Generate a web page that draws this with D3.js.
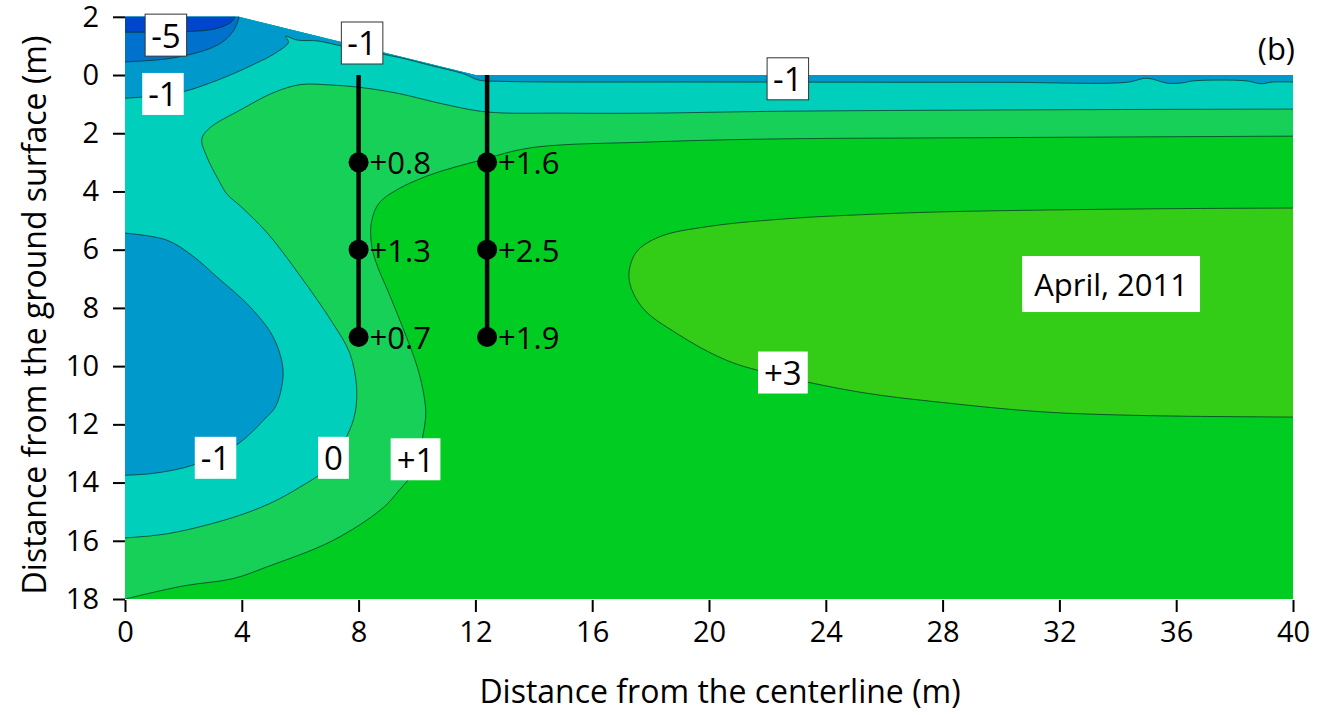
<!DOCTYPE html>
<html>
<head>
<meta charset="utf-8">
<script src="https://cdn.jsdelivr.net/npm/d3@7"></script>
<style>
  body { margin: 0; background: #fff; }
  svg { display: block; font-family: "Open Sans", sans-serif; }
</style>
</head>
<body>
<svg id="chart" width="1323" height="715"></svg>
<script>
// axis ticks
const xTicks = [0, 4, 8, 12, 16, 20, 24, 28, 32, 36, 40];
const depthTicks = [-2, 0, 2, 4, 6, 8, 10, 12, 14, 16, 18];

// embankment / ground surface [distance, depth]
const surface = [[0, -2], [3.9, -2], [12, 0], [40, 0]];

// contour lines [distance, depth]
const contourM5 = [[0, -1.47], [1.2, -1.48], [2.3, -1.5], [3.0, -1.57], [3.5, -1.73], [3.72, -1.9], [3.78, -2.05]];
const contourM3 = [[0, -0.45], [1.4, -0.55], [2.4, -0.75], [3.0, -0.95], [3.4, -1.18], [3.7, -1.5], [3.85, -1.8], [3.92, -2.05]];
const contourM1Top = [[0, 0.8], [1, 0.72], [2, 0.57], [2.9, 0.28], [3.7, -0.04], [4.5, -0.41], [5.1, -0.72],
  [5.6, -1.13], [5.5, -1.33], [5.9, -1.2], [6.6, -1.17], [7.4, -1.0], [8.2, -0.86], [9.0, -0.68], [9.4, -0.6],
  [10.5, -0.32], [11.6, -0.04], [12.1, 0.17], [13, 0.22], [20, 0.24], [30, 0.25], [34.3, 0.25], [35.0, 0.11],
  [35.7, 0.28], [36.2, 0.27], [36.6, 0.2], [38.4, 0.2], [38.9, 0.3], [39.3, 0.24], [40, 0.24]];
const contourM1Blob = [[0, 5.43], [1.43, 5.67], [2.3, 6.2], [3.14, 6.93], [4.28, 7.96], [5.07, 8.99], [5.4, 10.0],
  [5.37, 10.7], [5.15, 11.4], [4.85, 11.75], [3.83, 12.7], [2.33, 13.4], [1.0, 13.68], [0, 13.75]];
const contour0 = [[40, 1.17], [30, 1.2], [22, 1.25], [18, 1.31], [15, 1.31], [12.4, 1.27], [11, 1.02], [9.3, 0.62],
  [8.0, 0.42], [7.0, 0.34], [6.0, 0.33], [5.1, 0.6], [3.95, 1.2], [2.9, 1.82], [2.63, 2.2], [2.8, 2.8], [3.2, 3.6],
  [3.5, 4.1], [3.95, 4.5], [4.85, 5.4], [6.0, 6.9], [7.1, 8.5], [7.7, 9.56], [7.93, 10.7], [7.88, 11.6], [7.6, 12.4],
  [6.8, 13.6], [6.0, 14.15], [5.0, 14.7], [3.7, 15.2], [1.5, 15.75], [0, 15.9]];
const contourP1 = [[40, 2.1], [30, 2.15], [22, 2.2], [18, 2.3], [13.9, 2.5], [12.2, 2.92], [10.45, 3.43], [9.3, 3.95],
  [8.7, 4.4], [8.45, 5.0], [8.42, 5.6], [8.55, 6.3], [9.08, 7.6], [9.64, 9.0], [10.0, 10.0], [10.2, 10.8], [10.3, 11.6],
  [10.2, 12.4], [9.9, 13.6], [9.4, 14.25], [8.8, 14.9], [7.1, 16.0], [4.85, 16.9], [3.7, 17.3], [2.0, 17.55], [0, 18.0]];
const contourP3 = [[40, 4.57], [34.8, 4.6], [28, 4.7], [25.2, 4.8], [22.9, 4.92], [20, 5.2], [18.3, 5.56], [17.5, 6.1],
  [17.26, 6.97], [17.7, 7.97], [18.9, 8.88], [20.6, 9.8], [22.3, 10.3], [25.2, 10.9], [28, 11.25], [31.4, 11.57],
  [35, 11.7], [40, 11.75]];

// boreholes and measured values
const boreholes = [8, 12.4];
const sensorDepths = [3, 6, 9];
const sensorValues = [["+0.8", "+1.3", "+0.7"], ["+1.6", "+2.5", "+1.9"]];

// contour labels [text, distance, depth, bordered]
const contourLabels = [
  ["-5", 1.4, -1.37, true],
  ["-1", 1.3, 0.65, false],
  ["-1", 8.12, -1.1, true],
  ["-1", 22.7, 0.13, true],
  ["-1", 3.1, 13.15, false],
  ["0", 7.14, 13.15, false],
  ["+1", 9.95, 13.2, false],
  ["+3", 22.53, 10.22, false]
];
const dateLabel = ["April, 2011", 33.77, 7.18];

const svg = d3.select("#chart");
const x = d3.scaleLinear().domain([0, 40]).range([125, 1293]);
const y = d3.scaleLinear().domain([-2, 18]).range([16.8, 599]);

const line = d3.line().x(d => x(d[0])).y(d => y(d[1])).curve(d3.curveCatmullRom.alpha(0.5));
const straight = d3.line().x(d => x(d[0])).y(d => y(d[1]));

function regionPath(contour, closure) {
  return line(contour) + closure.map(p => `L${x(p[0])},${y(p[1])}`).join("") + "Z";
}

const groundPoly = surface.concat([[40, 18], [0, 18]]);
svg.append("defs").append("clipPath").attr("id", "ground")
  .append("path").attr("d", straight(groundPoly) + "Z");

const field = svg.append("g").attr("clip-path", "url(#ground)");

field.append("path").attr("d", straight(groundPoly) + "Z").attr("fill", "#00CC22");

const regions = [
  [contourP3, [[41, 11.75], [41, 4.57]], "#33CC17"],
  [contourP1, [[-1, 18], [-1, -3], [41, -3], [41, 2.1]], "#17D058"],
  [contour0, [[-1, 15.9], [-1, -3], [41, -3], [41, 1.17]], "#00CFBB"],
  [contourM1Top, [[41, 0.24], [41, -3], [-1, -3], [-1, 0.8]], "#0099CC"],
  [contourM1Blob, [[-1, 13.75], [-1, 5.43]], "#0099CC"],
  [contourM3, [[3.92, -3], [-1, -3], [-1, -0.45]], "#0071CC"],
  [contourM5, [[3.78, -3], [-1, -3], [-1, -1.47]], "#0046CC"]
];

field.selectAll("path.region")
  .data(regions)
  .join("path")
  .attr("class", "region")
  .attr("d", d => regionPath(d[0], d[1]))
  .attr("fill", d => d[2]);

field.selectAll("path.contour")
  .data(regions.map(d => d[0]))
  .join("path")
  .attr("class", "contour")
  .attr("d", d => line(d))
  .attr("fill", "none")
  .attr("stroke", "rgba(10,50,40,0.75)")
  .attr("stroke-width", 1);

// axes
const yAxis = d3.axisLeft(y).tickValues(depthTicks).tickFormat(d => Math.abs(d)).tickSize(12).tickPadding(14);
const xAxis = d3.axisBottom(x).tickValues(xTicks).tickSize(12).tickPadding(9);

const gy = svg.append("g").attr("transform", "translate(125,0)").call(yAxis);
const gx = svg.append("g").attr("transform", "translate(0,600)").call(xAxis);
[gx, gy].forEach(g => {
  g.select(".domain").remove();
  g.selectAll(".tick line").attr("stroke", "#000").attr("stroke-width", 2);
  g.selectAll(".tick text").attr("fill", "#000").style("font-size", "29px").style("font-family", "Open Sans");
});

svg.append("text")
  .attr("x", 720).attr("y", 690)
  .attr("text-anchor", "middle").attr("dominant-baseline", "central")
  .style("font-size", "32px")
  .text("Distance from the centerline (m)");

svg.append("text")
  .attr("transform", "translate(33,315) rotate(-90)")
  .attr("text-anchor", "middle").attr("dominant-baseline", "central")
  .style("font-size", "32px")
  .text("Distance from the ground surface (m)");

svg.append("text")
  .attr("x", 1295).attr("y", 48)
  .attr("text-anchor", "end").attr("dominant-baseline", "central")
  .style("font-size", "31px")
  .text("(b)");

// boreholes
const bh = svg.append("g");
boreholes.forEach((bx, i) => {
  bh.append("line")
    .attr("x1", x(bx)).attr("x2", x(bx))
    .attr("y1", y(0)).attr("y2", y(9))
    .attr("stroke", "#000").attr("stroke-width", 4.5);
  bh.selectAll(null)
    .data(sensorDepths)
    .join("circle")
    .attr("cx", x(bx)).attr("cy", d => y(d)).attr("r", 10).attr("fill", "#000");
  bh.selectAll(null)
    .data(sensorDepths)
    .join("text")
    .attr("x", x(bx) + 11).attr("y", d => y(d))
    .attr("dominant-baseline", "central")
    .style("font-size", "31px")
    .text((d, j) => sensorValues[i][j]);
});

// labels with white boxes
function boxedLabel(text, cx, cy, bordered, padX, h, size) {
  const g = svg.append("g");
  const rect = g.append("rect");
  const t = g.append("text")
    .attr("x", cx).attr("y", cy)
    .attr("text-anchor", "middle").attr("dominant-baseline", "central")
    .style("font-size", size + "px")
    .text(text);
  const w = t.node().getComputedTextLength() + 2 * padX;
  rect.attr("x", cx - w / 2).attr("y", cy - h / 2).attr("width", w).attr("height", h)
    .attr("fill", "#fff")
    .attr("stroke", bordered ? "#333" : "none").attr("stroke-width", 1);
}

contourLabels.forEach(d => boxedLabel(d[0], x(d[1]), y(d[2]), d[3], 6, 42, 33));
boxedLabel(dateLabel[0], x(dateLabel[1]), y(dateLabel[2]), false, 12, 56, 31);
</script>
</body>
</html>
